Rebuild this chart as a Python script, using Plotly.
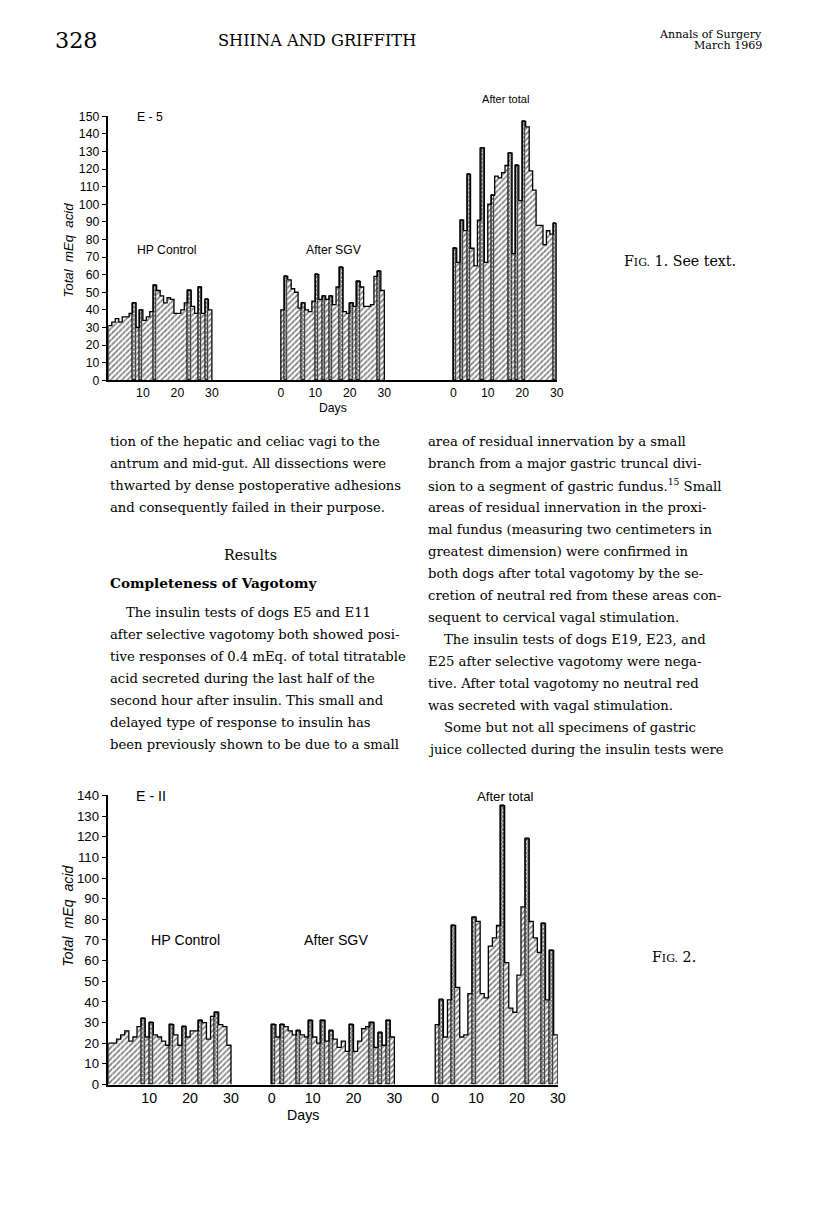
import plotly.graph_objects as go

# the photographed page comes out about 1.3% smaller than drawn, with the
# figure corner at (8, 15) on the page; positions below are page pixels of the
# reference and get mapped back through these constants
W, H = 800, 1180
LEFT, TOP = 8, 15
S = 0.987

# ---- data (total mEq acid per day) ----
# Fig. 1, dog E-5
e5_control = [31, 33, 35, 33, 36, 36, 38, 44, 30, 40, 34, 36, 39, 54, 51,
              48, 44, 47, 46, 38, 38, 40, 44, 51, 42, 38, 53, 38, 46, 40]
e5_control_dot = [7, 9, 13, 23, 26, 28]
e5_sgv = [40, 59, 57, 52, 50, 41, 44, 40, 39, 45, 60, 46, 48, 46, 48,
          43, 53, 64, 39, 38, 44, 42, 56, 53, 42, 42, 43, 59, 62, 51]
e5_sgv_dot = [1, 6, 10, 12, 14, 17, 20, 22, 28]
e5_total = [75, 67, 91, 85, 117, 75, 65, 91, 132, 67, 100, 105, 116, 115, 118,
            122, 129, 72, 122, 102, 147, 144, 119, 108, 88, 88, 77, 85, 83, 89]
e5_total_dot = [0, 2, 4, 8, 11, 16, 18, 20, 29]

# Fig. 2, dog E-11
e11_control = [20, 20, 22, 24, 26, 21, 23, 28, 32, 23, 30, 24, 23, 21, 19,
               29, 24, 19, 28, 23, 26, 26, 31, 30, 22, 33, 35, 29, 28, 19]
e11_control_dot = [8, 10, 15, 18, 22, 26]
e11_sgv = [29, 23, 29, 28, 26, 24, 26, 24, 23, 31, 23, 20, 31, 21, 26,
           22, 18, 21, 16, 29, 16, 21, 27, 28, 30, 18, 25, 19, 31, 23]
e11_sgv_dot = [0, 2, 6, 9, 12, 14, 19, 24, 26, 28]
e11_total = [29, 41, 23, 41, 77, 47, 23, 24, 44, 81, 79, 44, 42, 67, 71,
             77, 135, 59, 37, 35, 53, 86, 119, 79, 71, 64, 78, 41, 65, 24]
e11_total_dot = [1, 4, 9, 16, 22, 26, 28]

phases = ["HP Control", "After SGV", "After total"]
fig1_ticks = [10, 20, 30, 0, 10, 20, 30, 0, 10, 20, 30]
fig2_ticks = [10, 20, 30, 0, 10, 20, 30, 0, 10, 20, 30]

SANS = "Liberation Sans"
SERIF = "DejaVu Serif"


def px(x):
    return (x / S - LEFT) / W


def py(y):
    return 1 - (y / S - TOP) / H


def fs(size):
    return round(size / S, 1)


fig = go.Figure()


def add_panels(series, dots, offsets, xa, ya):
    xs, ys, shapes, lw, sol, sz = [], [], [], [], [], []
    for vals, dot, off in zip(series, dots, offsets):
        for i, v in enumerate(vals):
            xs.append(off + i + 0.5)
            ys.append(v)
            d = i in dot
            shapes.append("x" if d else "/")
            lw.append(1 if d else 0)
            sol.append(0.75 if d else 0.45)
            sz.append(3 if d else 4)
    fig.add_trace(go.Bar(
        x=xs, y=ys, width=1, xaxis=xa, yaxis=ya, showlegend=False,
        marker=dict(color="white",
                    line=dict(color="black", width=lw),
                    pattern=dict(shape=shapes, fgcolor="black", bgcolor="white",
                                 size=sz, solidity=sol)),
    ))
    # step outline of each panel
    for vals, off in zip(series, offsets):
        sx = [off] + [off + i for i in range(len(vals))] + [off + len(vals)] * 2
        sy = [0] + vals + [vals[-1], 0]
        fig.add_trace(go.Scatter(x=sx, y=sy, mode="lines", line_shape="hv",
                                 line=dict(color="black", width=1.3),
                                 xaxis=xa, yaxis=ya, showlegend=False,
                                 hoverinfo="skip"))


add_panels([e5_control, e5_sgv, e5_total],
           [e5_control_dot, e5_sgv_dot, e5_total_dot], [0, 50, 100], "x", "y")
add_panels([e11_control, e11_sgv, e11_total],
           [e11_control_dot, e11_sgv_dot, e11_total_dot], [0, 40, 80], "x2", "y2")

axis_common = dict(showgrid=False, zeroline=False, showline=True,
                   linecolor="black", linewidth=1.5)

fig.update_layout(
    width=W, height=H, margin=dict(l=0, r=0, t=0, b=0),
    paper_bgcolor="white", plot_bgcolor="white", bargap=0,
    xaxis=dict(domain=[px(108), px(555)], range=[0, 130], anchor="y",
               tickmode="array",
               tickvals=[10, 20, 30, 50, 60, 70, 80, 100, 110, 120, 130],
               ticktext=[str(t) for t in fig1_ticks], ticks="",
               tickfont=dict(family=SANS, size=fs(12), color="black"), **axis_common),
    yaxis=dict(domain=[py(380), py(116)], range=[0, 150], anchor="x",
               tickmode="linear", tick0=0, dtick=10, ticks="outside", ticklen=5,
               tickwidth=1.3, tickcolor="black",
               tickfont=dict(family=SANS, size=fs(12), color="black"), **axis_common),
    xaxis2=dict(domain=[px(108), px(556)], range=[0, 110], anchor="y2",
                tickmode="array",
                tickvals=[10, 20, 30, 40, 50, 60, 70, 80, 90, 100, 110],
                ticktext=[str(t) for t in fig2_ticks], ticks="",
                tickfont=dict(family=SANS, size=fs(14), color="black"), **axis_common),
    yaxis2=dict(domain=[py(1084), py(795)], range=[0, 140], anchor="x2",
                tickmode="linear", tick0=0, dtick=10, ticks="outside", ticklen=5,
                tickwidth=1.3, tickcolor="black",
                tickfont=dict(family=SANS, size=fs(13), color="black"), **axis_common),
)

ann = []


def txt(x, y, s, size, family=SANS, anchor="left", **kw):
    ann.append(dict(x=px(x), y=py(y), xref="paper", yref="paper", text=s,
                    showarrow=False, xanchor=anchor, yanchor="middle",
                    font=dict(family=family, size=fs(size), color="black"), **kw))


# chart labels
txt(135, 117, "E - 5", 12)
txt(135, 250, phases[0], 12)
txt(303, 250, phases[1], 12)
txt(478, 99, phases[2], 11)
txt(332, 408, "Days", 12, anchor="center")
txt(68, 250, "<i>Total  mEq  acid</i>", 13, anchor="center", textangle=-90)

txt(134, 796, "E - II", 14)
txt(148, 940, phases[0], 14)
txt(301, 940, phases[1], 14)
txt(473, 796, phases[2], 13)
txt(302, 1114, "Days", 14, anchor="center")
txt(68, 915, "<i>Total  mEq  acid</i>", 14, anchor="center", textangle=-90)

# page header and captions
txt(53, 40, "328", 22, SERIF)
txt(316, 40, "SHIINA AND GRIFFITH", 16, SERIF, anchor="center")
txt(762, 34, "Annals of Surgery", 11, SERIF, anchor="right")
txt(762, 45, "March 1969", 11, SERIF, anchor="right")
txt(620, 261, "F<span style='font-size:11px'>IG.</span> 1. See text.", 14, SERIF)
txt(648, 957, "F<span style='font-size:11px'>IG.</span> 2.", 14, SERIF)

# body text
left_lines = [
    (441, "tion of the hepatic and celiac vagi to the", 108),
    (463, "antrum and mid-gut. All dissections were", 108),
    (485, "thwarted by dense postoperative adhesions", 108),
    (507, "and consequently failed in their purpose.", 108),
    (612, "The insulin tests of dogs E5 and E11", 124),
    (634, "after selective vagotomy both showed posi-", 108),
    (656, "tive responses of 0.4 mEq. of total titratable", 108),
    (678, "acid secreted during the last half of the", 108),
    (700, "second hour after insulin. This small and", 108),
    (722, "delayed type of response to insulin has", 108),
    (744, "been previously shown to be due to a small", 108),
]
right_lines = [
    (441, "area of residual innervation by a small", 425),
    (463, "branch from a major gastric truncal divi-", 425),
    (485, "sion to a segment of gastric fundus.<sup>15</sup> Small", 425),
    (507, "areas of residual innervation in the proxi-", 425),
    (529, "mal fundus (measuring two centimeters in", 425),
    (551, "greatest dimension) were confirmed in", 425),
    (573, "both dogs after total vagotomy by the se-", 425),
    (595, "cretion of neutral red from these areas con-", 425),
    (617, "sequent to cervical vagal stimulation.", 425),
    (639, "The insulin tests of dogs E19, E23, and", 441),
    (661, "E25 after selective vagotomy were nega-", 425),
    (683, "tive. After total vagotomy no neutral red", 425),
    (705, "was secreted with vagal stimulation.", 425),
    (727, "Some but not all specimens of gastric", 441),
    (749, "juice collected during the insulin tests were", 425),
]
for y, s, x in left_lines + right_lines:
    txt(x, y, s, 13, SERIF)
txt(250, 555, "Results", 14, SERIF, anchor="center")
txt(108, 583, "<b>Completeness of Vagotomy</b>", 13.5, SERIF)

fig.update_layout(annotations=ann)

fig.write_html("out.html")
